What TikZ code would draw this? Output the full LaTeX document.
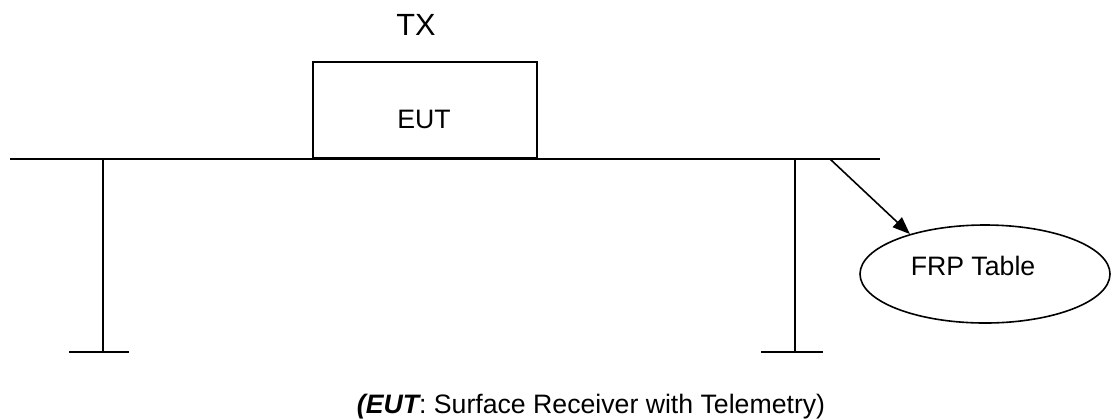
\documentclass[tikz,border=0pt]{standalone}
\usepackage{fontspec}
\setmainfont{Liberation Sans}
\usetikzlibrary{shapes,arrows.meta,positioning,calc}

\tikzset{
    txt/.style={font=\fontsize{20}{24}\selectfont, inner sep=0pt},
    leg/.style={line width=1.2pt},
}

\begin{document}
\begin{tikzpicture}[x=0.75pt,y=-0.75pt,line width=1.2pt]
    \useasboundingbox (0,0) rectangle (1112,419);
    % Table top and legs
    \coordinate (topl) at (10,159); \coordinate (topr) at (880,159);
    \draw (topl) -- (topr);
    \coordinate (legl) at (103,159); \coordinate (footl) at (103,352);
    \coordinate (legr) at (795,159); \coordinate (footr) at (795,352);
    \draw[leg] (legl) -- (footl); \draw[leg] ($(footl)+(-34,0)$) -- ($(footl)+(26,0)$);
    \draw[leg] (legr) -- (footr); \draw[leg] ($(footr)+(-34,0)$) -- ($(footr)+(28,0)$);
    % EUT on the table
    \node[draw, minimum width=168pt, minimum height=72pt, inner sep=0pt] (eut) at (425,110) {};
    \node[txt, anchor=base] (eutlab) at (424,128) {EUT};
    \node[txt, font=\fontsize{23}{27}\selectfont, anchor=base] (tx) at (416,35) {TX};
    % FRP table
    \node[draw, ellipse, minimum width=187.5pt, minimum height=73.5pt, inner sep=0pt] (frp) at (985,274) {};
    \node[txt, anchor=base] (frplab) at (973,275) {FRP Table};
    \coordinate (tap) at (830,159);
    \draw[-{Triangle[length=13pt,width=10pt]}] (tap) -- (frp.152);
    % Caption
    \node[txt, anchor=base] (cap) at (591,413) {{\bfseries\itshape (EUT}: Surface Receiver with Telemetry)};
\end{tikzpicture}
\end{document}
